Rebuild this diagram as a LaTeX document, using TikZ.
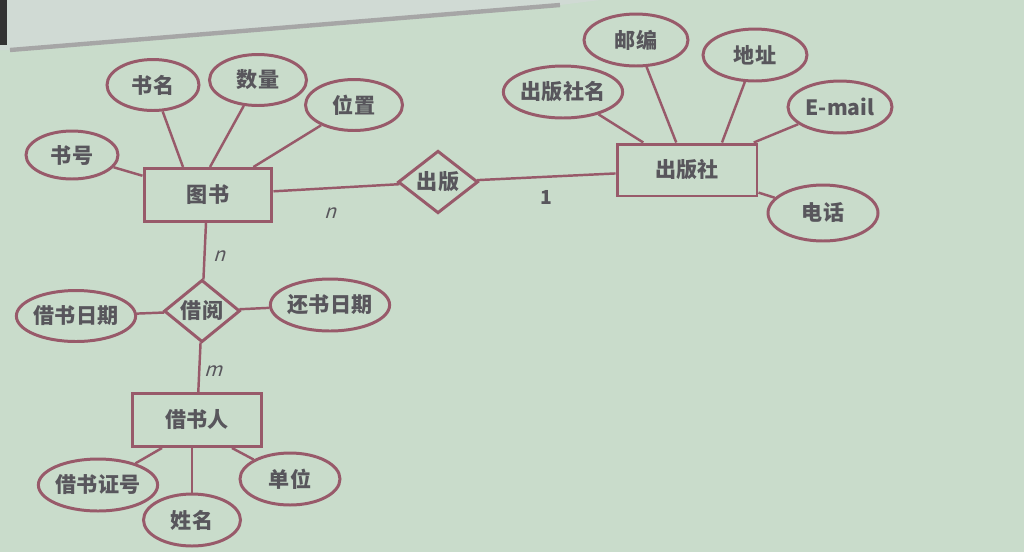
\documentclass[tikz,border=0pt]{standalone}
\usepackage{fontspec}
\newfontfamily\cjk{Noto Sans CJK SC}
\newfontfamily\cjkslant[FakeSlant=0.3]{Noto Sans CJK SC}
\usepackage{tikz}
\usetikzlibrary{shapes,positioning}
\definecolor{screen}{RGB}{201,220,203}
\definecolor{barbg}{RGB}{208,218,212}
\definecolor{erline}{RGB}{152,90,106}
\definecolor{ertext}{RGB}{88,86,92}
\tikzset{
	entity/.style={shape=rectangle,draw=erline,line width=1.7pt,inner sep=0pt,minimum width=2.56cm,minimum height=1.06cm,text=ertext,font=\cjk\bfseries\fontsize{12}{14}\selectfont},
	attr/.style={shape=ellipse,draw=erline,line width=1.7pt,inner sep=0pt,minimum width=1.94cm,minimum height=1.02cm,text=ertext,font=\cjk\bfseries\fontsize{12}{14}\selectfont},
	rel/.style={shape=diamond,draw=erline,line width=1.7pt,inner sep=0pt,minimum width=1.58cm,minimum height=1.08cm,text=ertext,font=\cjk\bfseries\fontsize{12}{14}\selectfont},
	link/.style={draw=erline,line width=1.4pt},
	card/.style={text=ertext,font=\cjk\bfseries\fontsize{11}{13}\selectfont},
	cardslant/.style={text=ertext,font=\cjkslant\fontsize{11}{13}\selectfont}
}
\begin{document}
\begin{tikzpicture}[x=0.02cm,y=-0.02cm]
		\useasboundingbox (0,0) rectangle (1024,552);
		\fill[screen] (0,0) rectangle (1024,552);
		% toolbar of the screen
		\fill[barbg] (0,0) -- (600,0) -- (560,5) -- (10,50) -- (0,50) -- cycle;
		\draw[gray!70,line width=2.5pt] (10,50) -- (560,5);
		\fill[black!80] (0,0) rectangle (7,45);
		\begin{scope}
			% books
			\node(tushu) [entity] at (208,195) {图书};
			\node(shuhao) [attr,minimum width=1.84cm,minimum height=0.96cm] at (72,155) {书号};
			\node(shuming) [attr,minimum width=1.84cm] at (153,85) {书名};
			\node(shuliang) [attr] at (258,80) {数量};
			\node(weizhi) [attr] at (354,105) {位置};
			% publishing
			\node(chuban) [rel,minimum width=1.6cm,minimum height=1.12cm] at (438,182) {出版};
			\node(cbs) [entity,minimum width=2.8cm,minimum height=1.04cm] at (687,170) {出版社};
			\node(cbsming) [attr,minimum width=2cm,minimum height=1.04cm] at (563,92) {出版社名};
			\node(youbian) [attr,minimum width=2.08cm,minimum height=1.04cm] at (636,40) {邮编};
			\node(dizhi) [attr,minimum width=2.08cm,minimum height=1.04cm] at (755,55) {地址};
			\node(email) [attr,minimum width=2.08cm,minimum height=1.04cm] at (840,107) {E-mail};
			\node(dianhua) [attr,minimum width=2.2cm,minimum height=1.12cm] at (823,213) {电话};
			% borrowing
			\node(jieyue) [rel,minimum width=1.52cm,minimum height=1.0cm] at (202,311) {借阅};
			\node(jsrq) [attr] at (76,316) {借书日期};
			\node(hsrq) [attr,minimum height=1.04cm] at (330,305) {还书日期};
			\node(jsr) [entity,minimum width=2.6cm] at (197,420) {借书人};
			\node(jszh) [attr,minimum width=2cm,minimum height=1.04cm] at (98,485) {借书证号};
			\node(xingming) [attr,minimum height=1.04cm] at (192,520) {姓名};
			\node(danwei) [attr,minimum width=2cm,minimum height=1.04cm] at (290,479) {单位};
			% cardinalities
			\node(n1) [cardslant] at (330,213) {n};
			\node(one) [card] at (546,197) {1};
			\node(n2) [cardslant] at (219,256) {n};
			\node(m1) [cardslant] at (213,371) {m};
			\path[link]
				(shuhao) edge (tushu)
				(shuming) edge ([xshift=-0.5cm]tushu.north)
				(shuliang) edge ([xshift=0.04cm]tushu.north)
				(weizhi) edge (tushu)
				(tushu) edge (chuban)
				(chuban) edge (cbs)
				(cbsming) edge (cbs)
				(youbian) edge (cbs)
				(dizhi) edge ([xshift=0.7cm]cbs.north)
				(email) edge (cbs)
				(dianhua) edge (cbs)
				([xshift=-0.04cm]tushu.south) edge (jieyue)
				(jsrq) edge (jieyue)
				(hsrq) edge (jieyue)
				(jieyue) edge (jsr)
				(jszh) edge ([xshift=-0.7cm]jsr.south)
				(xingming) edge (xingming |- jsr.south)
				(danwei) edge ([xshift=0.7cm]jsr.south);
		\end{scope}
	\end{tikzpicture}
\end{document}
